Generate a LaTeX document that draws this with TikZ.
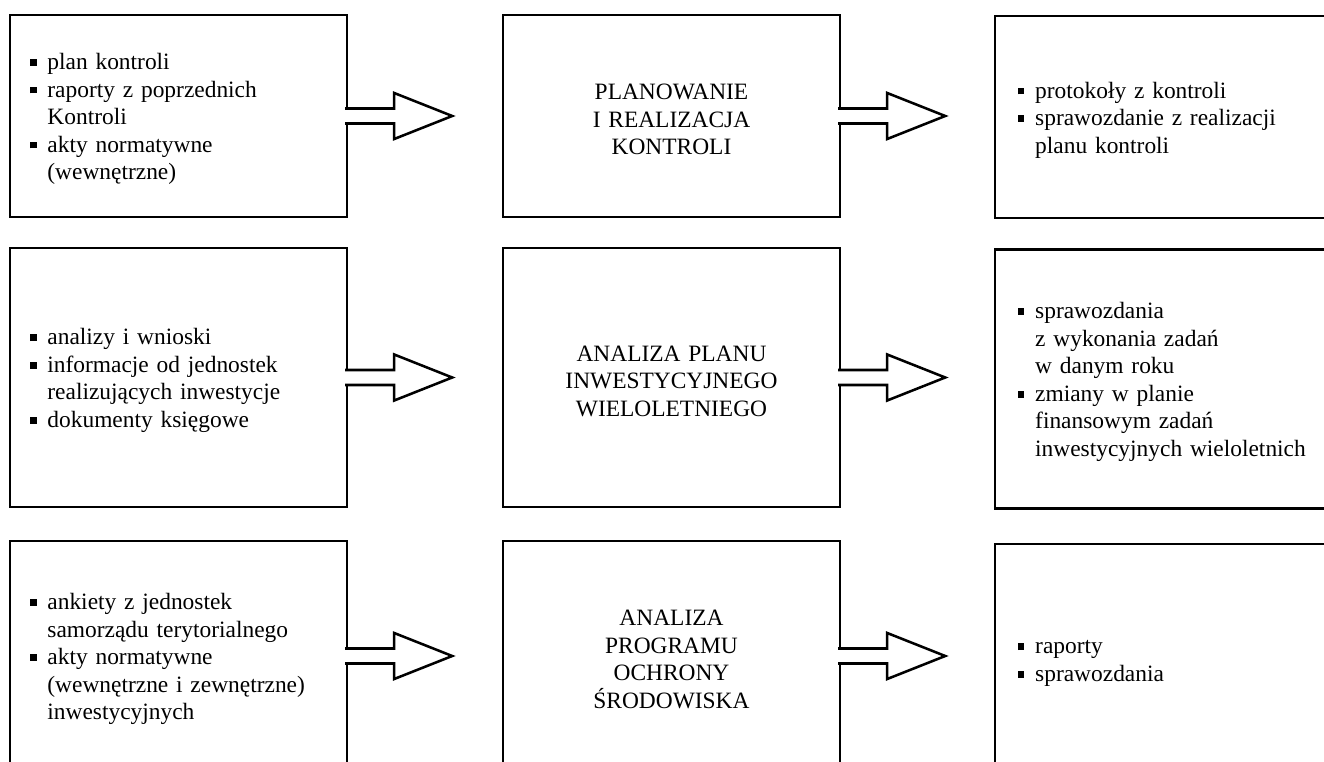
\documentclass[tikz,border=0pt]{standalone}
\usepackage{fontspec}
\setmainfont{Liberation Serif}
\usetikzlibrary{calc,positioning}

\newcommand{\bul}{\makebox[8.9pt][l]{\rule[2pt]{3.4pt}{3.4pt}}}
\newcommand{\ind}{\hspace*{8.9pt}}

\begin{document}
\begin{tikzpicture}[x=0.018cm,y=-0.018cm,
    box/.style={draw,line width=1.3pt,minimum width=6.066cm,inner ysep=0pt,
      font=\fontsize{12}{14.1}\selectfont,
      execute at begin node={\rule{0pt}{11.5pt}}},
    inbox/.style={box,align=left,inner xsep=0.36cm,text width=5.346cm},
    outbox/.style={box,align=left,inner xsep=0.41cm,text width=5.246cm},
    procbox/.style={box,align=center,inner xsep=0.3cm,text width=5.466cm},
    blockarr/.style={draw,fill=white,line width=1.3pt,line join=miter}]

  \useasboundingbox (0,0) rectangle (1324,762);
  \clip (0,0) rectangle (1324,762);

  \def\rowa{3.636cm}
  \def\rowb{4.662cm}
  \def\rowc{4.14cm}

  % row 1
  \node[inbox,minimum height=\rowa] (in1) at (178.5,116)
    {\bul plan kontroli\\
     \bul raporty z poprzednich\\
     \ind Kontroli\\
     \bul akty normatywne\\
     \ind (wewnętrzne)};
  \node[procbox,minimum height=\rowa] (proc1) at (671.5,116)
    {PLANOWANIE\\ I REALIZACJA\\ KONTROLI};
  \node[outbox,minimum height=\rowa] (out1) at (1163.5,117)
    {\bul protokoły z kontroli\\
     \bul sprawozdanie z realizacji\\
     \ind planu kontroli};

  % row 2
  \node[inbox,minimum height=\rowb] (in2) at (178.5,377.5)
    {\bul analizy i wnioski\\
     \bul informacje od jednostek\\
     \ind realizujących inwestycje\\
     \bul dokumenty księgowe};
  \node[procbox,minimum height=\rowb] (proc2) at (671.5,377.5)
    {ANALIZA PLANU\\ INWESTYCYJNEGO\\ WIELOLETNIEGO};
  \node[outbox,minimum height=\rowb] (out2) at (1163.5,379)
    {\bul sprawozdania\\
     \ind z wykonania zadań\\
     \ind w danym roku\\
     \bul zmiany w planie\\
     \ind finansowym zadań\\
     \ind inwestycyjnych wieloletnich};

  % row 3
  \node[inbox,minimum height=\rowc] (in3) at (178.5,656)
    {\bul ankiety z jednostek\\
     \ind samorządu terytorialnego\\
     \bul akty normatywne\\
     \ind (wewnętrzne i zewnętrzne)\\
     \ind inwestycyjnych};
  \node[procbox,minimum height=\rowc] (proc3) at (671.5,656)
    {ANALIZA\\ PROGRAMU\\ OCHRONY\\ ŚRODOWISKA};
  \node[outbox,minimum height=\rowc] (out3) at (1163.5,659)
    {\bul raporty\\
     \bul sprawozdania};

  \foreach \s in {in1,in2,in3,proc1,proc2,proc3}
    \draw[blockarr] ($(\s.east)+(-3,-7.5)$) -- ++(49,0) -- ++(0,-15.5)
      -- ++(58,23) -- ++(-58,23) -- ++(0,-15.5) -- ++(-49,0);
\end{tikzpicture}
\end{document}
